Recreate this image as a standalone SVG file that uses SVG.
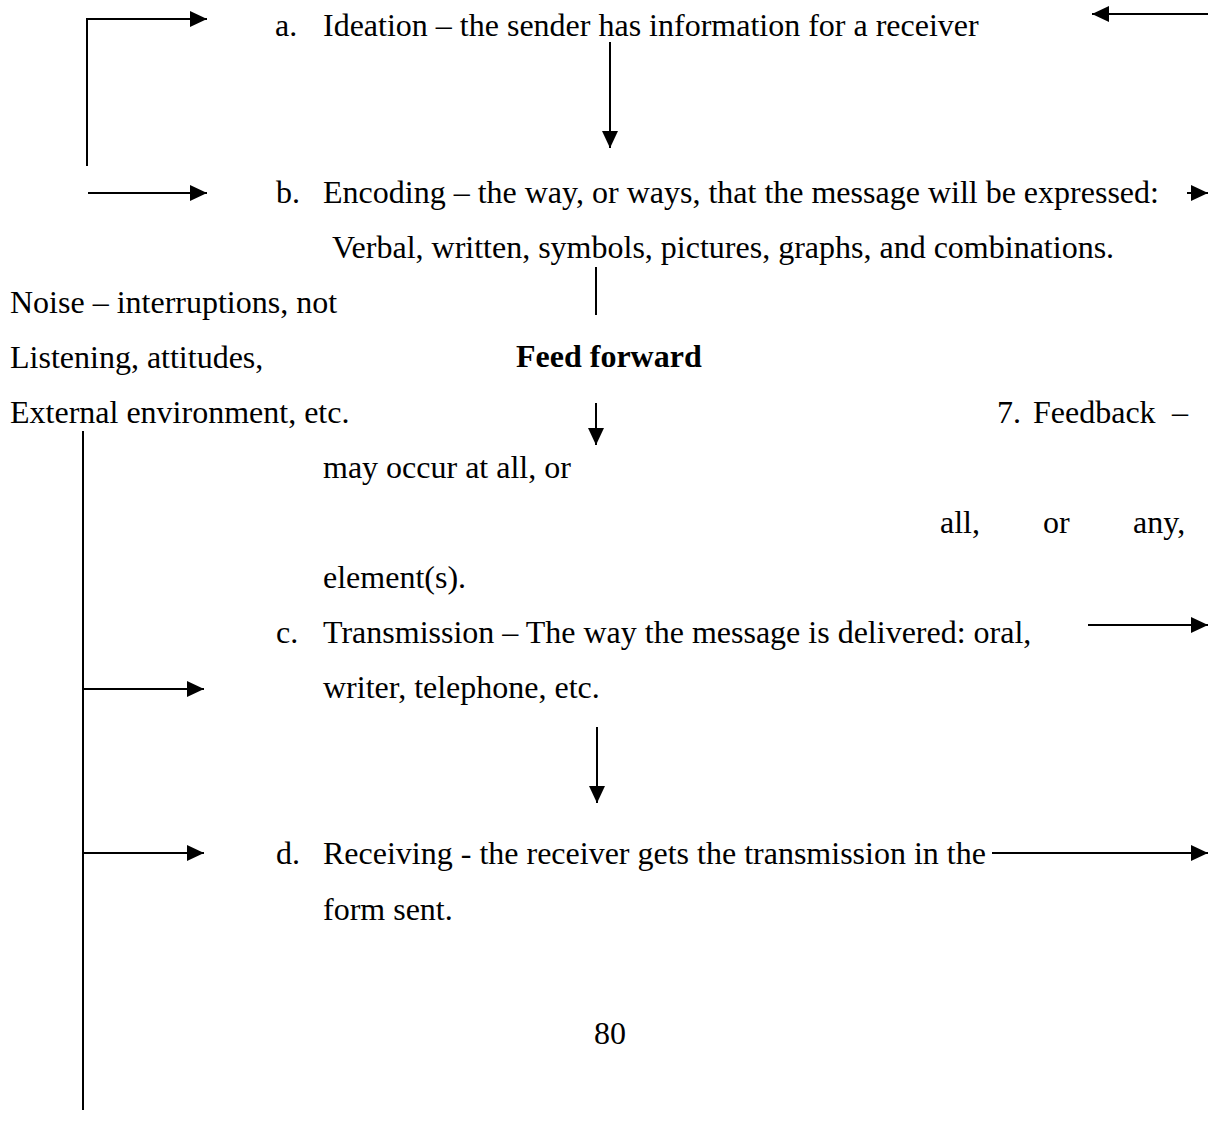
<svg xmlns="http://www.w3.org/2000/svg" width="1208" height="1148" viewBox="0 0 1208 1148">
<style>
text{font-family:"Liberation Serif","Times New Roman",serif;font-size:32px;fill:#000}
.b{font-weight:bold}
.ln{stroke:#000;stroke-width:2;fill:none}
.ar{stroke:#000;stroke-width:2;fill:none;marker-end:url(#ah)}
</style>
<defs>
<marker id="ah" markerUnits="userSpaceOnUse" markerWidth="17" markerHeight="16" refX="17" refY="8" orient="auto">
<path d="M0,0 L17,8 L0,16 z" fill="#000"/>
</marker>
</defs>
<rect width="1208" height="1148" fill="#fff"/>
<g id="connectors">
<path class="ar" d="M87,166 V19 H207"/>
<path class="ar" d="M88,193 H207"/>
<path class="ar" d="M1208,14 H1092"/>
<path class="ar" d="M1187,193 H1208"/>
<path class="ar" d="M610,42 V148"/>
<path class="ln" d="M596,267 V315"/>
<path class="ar" d="M596,403 V445"/>
<path class="ar" d="M1088,625 H1208"/>
<path class="ln" d="M83,431 V1110"/>
<path class="ar" d="M84,689 H204"/>
<path class="ar" d="M84,853 H204"/>
<path class="ar" d="M597,727 V803"/>
<path class="ar" d="M992,853 H1208"/>
</g>
<g id="node-ideation">
<text x="275" y="36">a.</text>
<text x="323" y="36">Ideation – the sender has information for a receiver</text>
</g>
<g id="node-encoding">
<text x="276" y="203">b.</text>
<text x="323" y="203">Encoding – the way, or ways, that the message will be expressed:</text>
<text x="332" y="258">Verbal, written, symbols, pictures, graphs, and combinations.</text>
</g>
<g id="node-noise">
<text x="10" y="313">Noise – interruptions, not</text>
<text x="10" y="368">Listening, attitudes,</text>
<text x="10" y="423">External environment, etc.</text>
</g>
<g id="node-feedforward">
<text class="b" x="516" y="367">Feed forward</text>
</g>
<g id="node-feedback">
<text x="997" y="423">7.</text>
<text x="1033" y="423">Feedback</text>
<text x="1172" y="423">–</text>
<text x="323" y="478">may occur at all, or</text>
<text x="940" y="533">all,</text>
<text x="1043" y="533">or</text>
<text x="1133" y="533">any,</text>
<text x="323" y="588">element(s).</text>
</g>
<g id="node-transmission">
<text x="276" y="643">c.</text>
<text x="323" y="643">Transmission – The way the message is delivered: oral,</text>
<text x="323" y="698">writer, telephone, etc.</text>
</g>
<g id="node-receiving">
<text x="276" y="864">d.</text>
<text x="323" y="864">Receiving - the receiver gets the transmission in the</text>
<text x="323" y="920">form sent.</text>
</g>
<g id="page-number">
<text x="594" y="1044">80</text>
</g>
</svg>
